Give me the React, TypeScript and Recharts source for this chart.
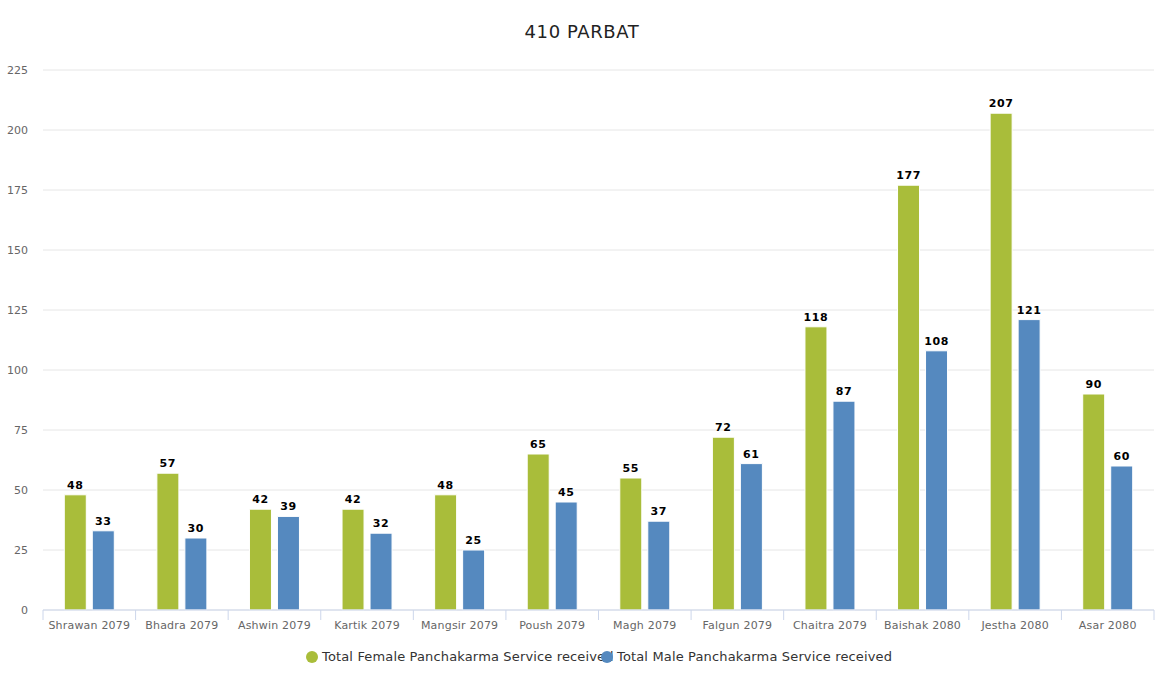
import React from 'react';
import { BarChart, Bar, XAxis, YAxis, CartesianGrid, LabelList, Legend } from 'recharts';

const categories = ['Shrawan 2079', 'Bhadra 2079', 'Ashwin 2079', 'Kartik 2079', 'Mangsir 2079', 'Poush 2079', 'Magh 2079', 'Falgun 2079', 'Chaitra 2079', 'Baishak 2080', 'Jestha 2080', 'Asar 2080'];
const femaleValues = [48, 57, 42, 42, 48, 65, 55, 72, 118, 177, 207, 90];
const maleValues = [33, 30, 39, 32, 25, 45, 37, 61, 87, 108, 121, 60];
const yTicks = [0, 25, 50, 75, 100, 125, 150, 175, 200, 225];

const FEMALE = 'Total Female Panchakarma Service received';
const MALE = 'Total Male Panchakarma Service received';
const GREEN = '#a9bd3a';
const BLUE = '#5589bf';
const FONT = '"DejaVu Sans", Verdana, sans-serif';

const data = categories.map((c, i) => ({ name: c, female: femaleValues[i], male: maleValues[i] }));

const XTick = (props: any) => {
  const { x, y, payload, index, visibleTicksCount } = props;
  const off = payload.offset || 0;
  const last = index === (visibleTicksCount ?? categories.length) - 1;
  return (
    <g>
      <line x1={x - off} x2={x - off} y1={y - 8} y2={y + 2} stroke="#ccd6eb" strokeWidth={1} />
      {last && <line x1={x + off} x2={x + off} y1={y - 8} y2={y + 2} stroke="#ccd6eb" strokeWidth={1} />}
      <text x={x} y={y + 11} textAnchor="middle" fill="#666" fontSize={11} fontFamily={FONT} style={{ letterSpacing: 0.2 }}>
        {payload.value}
      </text>
    </g>
  );
};

const LegendContent = () => (
  <div style={{ position: 'relative', height: 18, fontFamily: FONT, fontSize: 13, color: '#333', letterSpacing: 0.15 }}>
    <div style={{ position: 'absolute', left: 306, top: 0, display: 'flex', alignItems: 'center', whiteSpace: 'nowrap' }}>
      <span style={{ width: 12, height: 12, borderRadius: '50%', background: GREEN, display: 'inline-block', marginRight: 4 }} />
      <span>{FEMALE}</span>
    </div>
    <div style={{ position: 'absolute', left: 601, top: 0, display: 'flex', alignItems: 'center', whiteSpace: 'nowrap' }}>
      <span style={{ width: 12, height: 12, borderRadius: '50%', background: BLUE, display: 'inline-block', marginRight: 4 }} />
      <span>{MALE}</span>
    </div>
  </div>
);

export default function App() {
  return (
    <div style={{ position: 'absolute', left: 0, top: 0, width: 1164, height: 685, background: '#fff', fontFamily: FONT }}>
      <div style={{ position: 'absolute', left: 0, top: 21, width: 1164, textAlign: 'center', fontSize: 18, color: '#222', fontFamily: FONT, letterSpacing: 0.6 }}>
        410 PARBAT
      </div>
      <BarChart
        width={1164}
        height={685}
        data={data}
        margin={{ top: 70, right: 10, bottom: 27, left: 0 }}
        barCategoryGap="23%"
        barGap={6}
      >
        <CartesianGrid vertical={false} stroke="#e6e6e6" />
        <YAxis
          width={43}
          domain={[0, 225]}
          ticks={yTicks}
          interval={0}
          axisLine={false}
          tickLine={false}
          tickSize={0}
          tickMargin={15}
          tick={{ fill: '#666', fontSize: 11, fontFamily: FONT }}
        />
        <XAxis
          dataKey="name"
          interval={0}
          axisLine={{ stroke: '#ccd6eb' }}
          tickLine={false}
          tick={<XTick />}
        />
        <Legend verticalAlign="bottom" wrapperStyle={{ bottom: 18, left: 0, width: 1164 }} content={<LegendContent />} />
        <Bar dataKey="female" name={FEMALE} fill={GREEN} stroke="#fff" strokeWidth={1} isAnimationActive={false}>
          <LabelList dataKey="female" position="top" offset={6} fill="#000" fontSize={11} fontWeight="bold" fontFamily={FONT} style={{ letterSpacing: 0.6 }} />
        </Bar>
        <Bar dataKey="male" name={MALE} fill={BLUE} stroke="#fff" strokeWidth={1} isAnimationActive={false}>
          <LabelList dataKey="male" position="top" offset={6} fill="#000" fontSize={11} fontWeight="bold" fontFamily={FONT} style={{ letterSpacing: 0.6 }} />
        </Bar>
      </BarChart>
    </div>
  );
}
